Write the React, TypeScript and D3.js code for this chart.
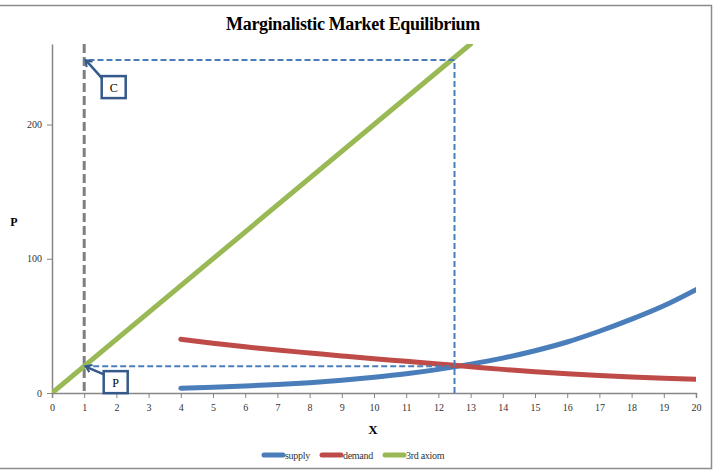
import React, { useEffect, useRef } from "react";
import * as d3 from "d3";

// quantity grid for the two market curves
const quantities = [4, 5, 6, 7, 8, 9, 10, 11, 12, 13, 14, 15, 16, 17, 18, 19, 20];
const supply = [3.6, 4.3, 5.2, 6.3, 7.7, 9.5, 11.7, 14.3, 17.6, 21.5, 26, 31.5, 38, 46, 55, 65, 77];
const demand = [40, 37, 34.4, 32, 29.8, 27.6, 25.5, 23.6, 21.6, 19.6, 17.6, 15.9, 14.4, 13.1, 12, 11, 10.2];
// 3rd axiom line end points
const axiomQ = [0, 13];
const axiomP = [0, 260];

const xTicks = d3.range(0, 21);
const yTicks = [0, 100, 200];

// guide lines
const markerQ = 1;
const equilibriumQ = 12.5;
const equilibriumP = 20;
const ceilingP = 248;

const seriesNames = ["supply", "demand", "3rd axiom"];
const seriesColors = ["#4A7EBB", "#BE4B48", "#98B954"];

const W = 713;
const H = 472;
const font = "'Liberation Serif', 'Times New Roman', serif";

const App = () => {
  const svgRef = useRef<SVGSVGElement>(null);

  useEffect(() => {
    const svg = d3.select(svgRef.current);
    svg.selectAll("*").remove();

    const x = d3.scaleLinear().domain([0, 20]).range([52, 696]);
    const y = d3.scaleLinear().domain([0, 260]).range([393, 44]);

    // outer frame
    svg.append("rect")
      .attr("x", -2).attr("y", 5.5)
      .attr("width", 713.5).attr("height", 463)
      .attr("fill", "#fff").attr("stroke", "#8c8c8c").attr("stroke-width", 1.5);

    svg.append("text")
      .attr("x", 353).attr("y", 30)
      .attr("text-anchor", "middle")
      .attr("font-family", font).attr("font-weight", "bold")
      .attr("font-size", 18).attr("letter-spacing", -0.35)
      .text("Marginalistic Market Equilibrium");

    svg.append("defs").append("clipPath").attr("id", "plot")
      .append("rect")
      .attr("x", 52).attr("y", y(260))
      .attr("width", 644).attr("height", y(0) - y(260));

    const axisColor = "#868686";

    // x axis
    const gx = svg.append("g").attr("transform", `translate(0,${y(0)})`);
    gx.call(d3.axisBottom(x).tickValues(xTicks).tickSize(5).tickPadding(6).tickFormat(d3.format("d")));
    gx.select(".domain").attr("stroke", axisColor).attr("stroke-width", 1.5);
    gx.selectAll(".tick line").attr("stroke", axisColor);
    gx.selectAll(".tick text")
      .attr("font-family", font).attr("font-size", 10).attr("fill", "#333");

    // y axis
    const gy = svg.append("g").attr("transform", `translate(${x(0)},0)`);
    gy.call(d3.axisLeft(y).tickValues(yTicks).tickSize(5).tickPadding(5).tickSizeOuter(0));
    gy.select(".domain").attr("stroke", axisColor).attr("stroke-width", 1.5);
    gy.selectAll(".tick line").attr("stroke", axisColor);
    gy.selectAll(".tick text")
      .attr("font-family", font).attr("font-size", 10).attr("fill", "#333");

    svg.append("text")
      .attr("x", 373).attr("y", 434)
      .attr("text-anchor", "middle")
      .attr("font-family", font).attr("font-weight", "bold").attr("font-size", 13)
      .text("X");
    svg.append("text")
      .attr("x", 14).attr("y", 226)
      .attr("text-anchor", "middle")
      .attr("font-family", font).attr("font-weight", "bold").attr("font-size", 12)
      .text("P");

    // vertical marker at q = 1
    svg.append("line")
      .attr("x1", x(markerQ)).attr("x2", x(markerQ))
      .attr("y1", y(260)).attr("y2", y(0))
      .attr("stroke", "#7F7F7F").attr("stroke-width", 3)
      .attr("stroke-dasharray", "9,4");

    const plot = svg.append("g").attr("clip-path", "url(#plot)");

    const line = d3.line<[number, number]>()
      .x((d) => x(d[0])).y((d) => y(d[1]))
      .curve(d3.curveMonotoneX);

    const curves: [number, number][][] = [
      quantities.map((q, i) => [q, supply[i]]),
      quantities.map((q, i) => [q, demand[i]]),
      axiomQ.map((q, i) => [q, axiomP[i]]),
    ];
    // draw order: axiom, supply, demand
    [2, 0, 1].forEach((k) => {
      plot.append("path")
        .attr("d", line(curves[k]))
        .attr("fill", "none")
        .attr("stroke", seriesColors[k])
        .attr("stroke-width", 5)
        .attr("stroke-linecap", "round");
    });

    // dashed guides
    const guideColor = "#4A7EBB";
    const guides = [
      [[markerQ, equilibriumP], [equilibriumQ, equilibriumP]],
      [[equilibriumQ, 0], [equilibriumQ, ceilingP]],
      [[equilibriumQ, ceilingP], [markerQ, ceilingP]],
    ];
    guides.forEach((g) => {
      svg.append("line")
        .attr("x1", x(g[0][0])).attr("y1", y(g[0][1]))
        .attr("x2", x(g[1][0])).attr("y2", y(g[1][1]))
        .attr("stroke", guideColor).attr("stroke-width", 2)
        .attr("stroke-dasharray", "6,3");
    });

    // callouts
    const calloutColor = "#34598A";
    const callouts = [
      { label: "C", q: markerQ, p: ceilingP, dx: 16, dy: 16 },
      { label: "P", q: markerQ, p: equilibriumP, dx: 18, dy: 5 },
    ];
    callouts.forEach((c) => {
      const tx = x(c.q) + 1.5;
      const ty = y(c.p);
      const bx = tx + c.dx;
      const by = ty + c.dy;
      // arrow
      svg.append("line")
        .attr("x1", bx + 2).attr("y1", by + 4)
        .attr("x2", tx + 1).attr("y2", ty + 1)
        .attr("stroke", calloutColor).attr("stroke-width", 2.5);
      const ang = Math.atan2(by + 4 - ty, bx + 2 - tx);
      const head = d3.path();
      const len = 7;
      head.moveTo(tx + len * Math.cos(ang - 0.6), ty + len * Math.sin(ang - 0.6));
      head.lineTo(tx, ty);
      head.lineTo(tx + len * Math.cos(ang + 0.6), ty + len * Math.sin(ang + 0.6));
      svg.append("path")
        .attr("d", head.toString())
        .attr("fill", "none").attr("stroke", calloutColor).attr("stroke-width", 2);
      svg.append("rect")
        .attr("x", bx).attr("y", by)
        .attr("width", 24).attr("height", 22)
        .attr("fill", "#fff").attr("stroke", calloutColor).attr("stroke-width", 2.5);
      svg.append("text")
        .attr("x", bx + 12).attr("y", by + 15.5)
        .attr("text-anchor", "middle")
        .attr("font-family", font).attr("font-size", 12)
        .text(c.label);
    });

    // legend
    const legendX = [262, 320, 383];
    seriesNames.forEach((name, i) => {
      const lg = svg.append("g").attr("transform", `translate(${legendX[i]},455)`);
      lg.append("line")
        .attr("x1", 2).attr("x2", 21)
        .attr("stroke", seriesColors[i]).attr("stroke-width", 5)
        .attr("stroke-linecap", "round");
      lg.append("text")
        .attr("x", 23).attr("y", 3.5)
        .attr("font-family", font).attr("font-size", 10).attr("letter-spacing", -0.3)
        .attr("fill", "#333")
        .text(name);
    });
  }, []);

  return (
    <svg
      ref={svgRef}
      width={W}
      height={H}
      style={{ position: "absolute", left: 0, top: 0, background: "#fff" }}
    />
  );
};

export default App;
